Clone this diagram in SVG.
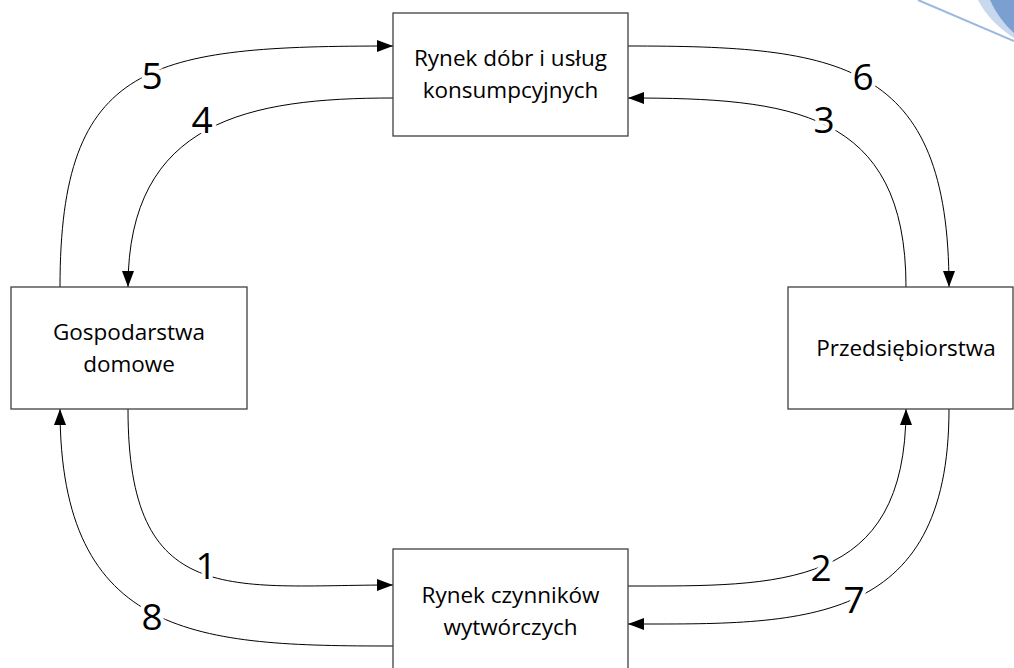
<svg xmlns="http://www.w3.org/2000/svg" width="1014" height="668" viewBox="0 0 1014 668">
<style>
.box{fill:#fff;stroke:#404040;stroke-width:1.3}
.lbl{font-family:"Open Sans","Noto Sans",sans-serif;font-size:22.5px;fill:#000;text-anchor:middle}
.con{fill:none;stroke:#000;stroke-width:1}
.num{font-family:"Open Sans","Noto Sans",sans-serif;font-size:37px;fill:#000;text-anchor:middle;stroke:#fff;stroke-width:8;paint-order:stroke;stroke-linejoin:round}
</style>
<defs>
<marker id="arr" markerUnits="userSpaceOnUse" markerWidth="17" markerHeight="13" refX="16" refY="6" orient="auto">
<path d="M0,0 L16,6 L0,12 Z" fill="#000"/>
</marker>
</defs>
<rect width="1014" height="668" fill="#fff"/>
<g id="decor">
<path d="M918,0 L1014,41" stroke="#9cb8e0" stroke-width="2" fill="none"/>
<path d="M978,0 C986,16 1000,29 1014,38 L1014,0 Z" fill="#c8d8ee"/>
<path d="M990,0 C996,13 1004,24 1014,33 L1014,0 Z" fill="#7b9fd0"/>
</g>
<g id="connectors">
<path class="con" d="M60,287 C60,60 150,46 393,46" marker-end="url(#arr)"/>
<path class="con" d="M393,98 C250,98 128,120 128,287" marker-end="url(#arr)"/>
<path class="con" d="M628,46 C840,46 949,60 949,287" marker-end="url(#arr)"/>
<path class="con" d="M906,287 C906,110 790,98 628,98" marker-end="url(#arr)"/>
<path class="con" d="M128,409 C128,610 230,585 393,585" marker-end="url(#arr)"/>
<path class="con" d="M393,646 C200,646 60,640 60,409" marker-end="url(#arr)"/>
<path class="con" d="M628,586 C780,586 906,590 906,409" marker-end="url(#arr)"/>
<path class="con" d="M949,409 C949,630 800,624 628,624" marker-end="url(#arr)"/>
<text class="num" x="152" y="89">5</text>
<text class="num" x="202" y="133">4</text>
<text class="num" x="863" y="90">6</text>
<text class="num" x="824" y="133">3</text>
<text class="num" x="206" y="579">1</text>
<text class="num" x="152" y="630">8</text>
<text class="num" x="821" y="581">2</text>
<text class="num" x="854" y="613">7</text>
</g>
<g id="rynek-dobr">
<rect class="box" x="393" y="13" width="235" height="123"/>
<text class="lbl" x="510.5" y="66">Rynek dóbr i usług</text>
<text class="lbl" x="510.5" y="98">konsumpcyjnych</text>
</g>
<g id="gospodarstwa">
<rect class="box" x="11" y="287" width="236" height="122"/>
<text class="lbl" x="129" y="340">Gospodarstwa</text>
<text class="lbl" x="129" y="372">domowe</text>
</g>
<g id="przedsiebiorstwa">
<rect class="box" x="788" y="287" width="225" height="122"/>
<text class="lbl" x="906" y="356">Przedsiębiorstwa</text>
</g>
<g id="rynek-czynnikow">
<rect class="box" x="393" y="549" width="235" height="125"/>
<text class="lbl" x="510.5" y="603">Rynek czynników</text>
<text class="lbl" x="510.5" y="635">wytwórczych</text>
</g>
</svg>
